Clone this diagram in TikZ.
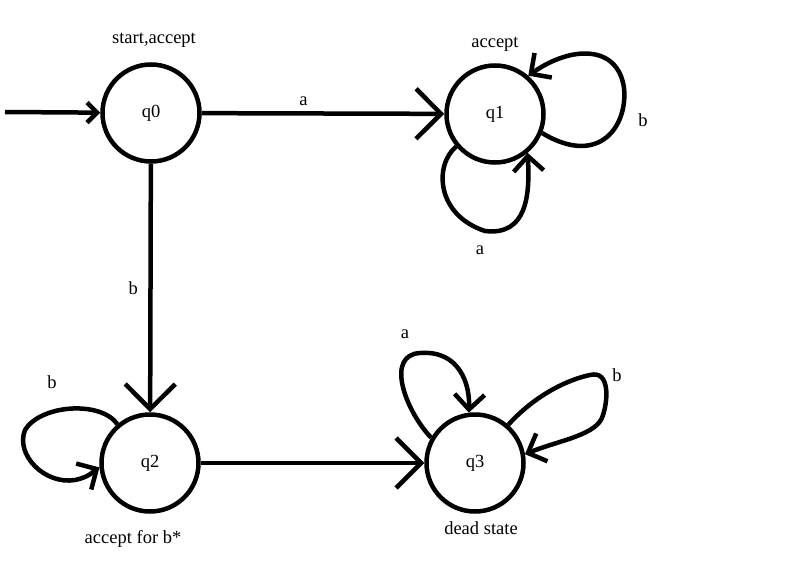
\documentclass[tikz,border=0pt]{standalone}
\usepackage{fontspec}
\setmainfont{Liberation Serif}
\usetikzlibrary{arrows.meta}

\begin{document}
\begin{tikzpicture}[x=1pt, y=-1pt,
            % estados del automata
            state/.style={circle, draw, line width=4.5pt, minimum size=97pt, inner sep=0pt, font=\fontsize{18.5}{22}\selectfont},
            % transiciones entre estados
            line/.style={draw, line width=4.5pt, -{Straight Barb[length=25pt, width=50pt]}},
            % transiciones de un estado a si mismo
            loopline/.style={draw, line width=4.5pt, line join=round, -{Straight Barb[length=15pt, width=30pt]}},
            initline/.style={draw, line width=4.5pt, -{Straight Barb[length=10pt, width=20pt]}},
            lbl/.style={font=\fontsize{18.5}{22}\selectfont}
        ]
            \useasboundingbox (0,0) rectangle (794,569);

            \node [state] (q0) at (151,113) {q0};
            \node [state] (q1) at (495,114) {q1};
            \node [state] (q2) at (150,463) {q2};
            \node [state] (q3) at (475,463) {q3};
            \coordinate (start) at (5,112);

            \node [lbl] (q0note) at (154,40) {start,accept};
            \node [lbl] (q1note) at (495,44) {accept};
            \node [lbl] (q2note) at (133,539) {accept for b*};
            \node [lbl] (q3note) at (481,528) {dead state};

            \path [initline] (start) -- (q0);
            \path [line] (q0) -- node [lbl, pos=0.42, above=2pt] {a} (q1);
            \path [line] (q0) -- node [lbl, left=7pt] {b} (q2);
            \path [line] (q2) -- (q3);

            \path [loopline] (q1.-22) .. controls (600,168) and (628,125) .. (624,88)
                .. controls (618,45) and (572,45) .. (q1.49);
            \path [loopline] (q1.220) .. controls (434,165) and (436,215) .. (485,231)
                .. controls (527,236) and (530,195) .. (q1.-50);
            \path [loopline] (q2.130) .. controls (100,400) and (40,405) .. (25,430)
                .. controls (15,455) and (45,485) .. (75,480)
                .. controls (90,477) and (95,470) .. (q2.185);
            \path [loopline] (q3.150) .. controls (405,410) and (385,355) .. (420,353)
                .. controls (460,350) and (470,385) .. (q3.97);
            \path [loopline] (q3.49) .. controls (540,390) and (575,378) .. (590,375)
                .. controls (610,370) and (608,400) .. (603,415)
                .. controls (598,435) and (560,440) .. (q3.10);

            \node [lbl] (q1b) at (643,120) {b};
            \node [lbl] (q1a) at (480,250) {a};
            \node [lbl] (q2b) at (52,382) {b};
            \node [lbl] (q3a) at (405,334) {a};
            \node [lbl] (q3b) at (617,375) {b};
        \end{tikzpicture}
\end{document}
